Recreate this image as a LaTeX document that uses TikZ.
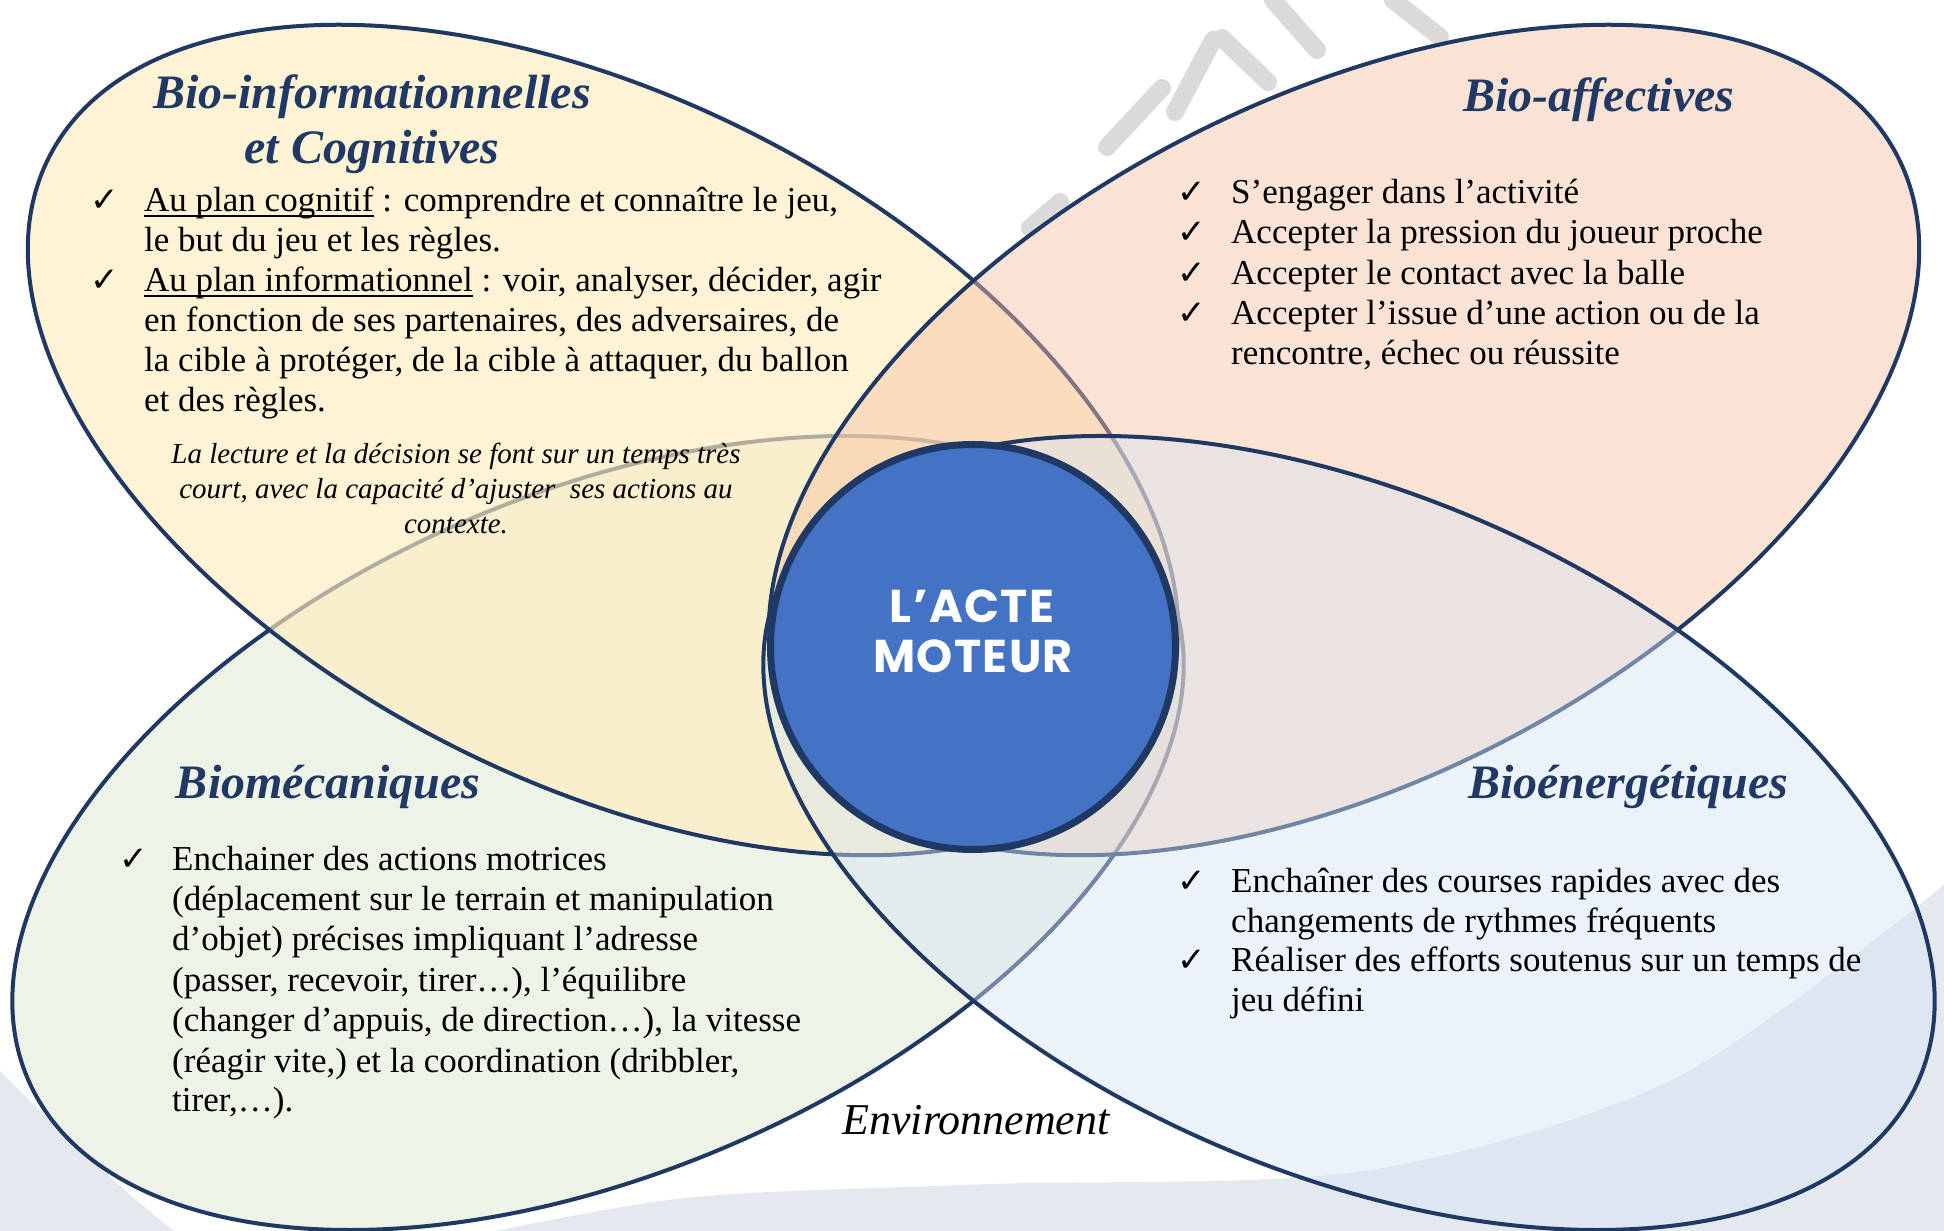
\documentclass[tikz,border=0pt]{standalone}
\usepackage{fontspec}
\setmainfont{Liberation Serif}
\newfontfamily\symfont{DejaVu Sans}
\newfontfamily\circfont{Poppins}[LetterSpace=3]
\newcommand\myul[1]{{\setbox0\hbox{#1}\rlap{\rule[-5pt]{\wd0}{1.6pt}}\box0}}
\definecolor{navy}{HTML}{1F3864}
\definecolor{ylw}{RGB}{255,237,192}
\definecolor{org}{RGB}{246,195,162}
\definecolor{grn}{RGB}{219,230,203}
\definecolor{lbl}{RGB}{215,228,244}
\definecolor{bggrey}{RGB}{228,233,240}
\definecolor{circblue}{HTML}{4472C4}
\definecolor{wm}{RGB}{218,218,218}
\begin{document}
\begin{tikzpicture}[x=1pt,y=1pt,
  petal/.style={draw=navy,line width=4pt,fill opacity=0.45},
  body/.style={font=\fontsize{35}{40}\selectfont,anchor=base west,inner sep=0pt},
  chk/.style={font=\symfont\fontsize{34}{40}\selectfont,anchor=base west,inner sep=0pt},
  note/.style={font=\fontsize{29}{35}\selectfont\itshape,anchor=base,inner sep=0pt},
  ttl/.style={font=\fontsize{48}{52}\selectfont\bfseries\itshape,text=navy,anchor=base,inner sep=0pt},
  acte/.style={font=\circfont\bfseries\fontsize{46}{54}\selectfont,text=white,anchor=base,inner sep=0pt},
  wmark/.style={draw=wm,line width=18pt,line cap=round},
  band/.style={fill=bggrey,draw=none}]
\useasboundingbox (0,0) rectangle (1944,1231);
\fill[white] (0,0) rectangle (1944,1231);
% background bands
\path[band] (0,160) .. controls (50,110) and (110,50) .. (174,0) -- (0,0) -- cycle;
\path[band] plot[smooth] coordinates {(496,0) (694,34) (992,47) (1364,60) (1674,152) (1944,346)} -- (1944,0) -- cycle;
% watermark strokes
\draw[wmark] (1030,1003) -- (1060,1029);
\draw[wmark] (1107,1084) -- (1162,1143);
\draw[wmark] (1175,1119) -- (1213,1191);
\draw[wmark] (1222,1193) -- (1268,1149);
\draw[wmark] (1273,1231) -- (1317,1181);
\draw[wmark] (1393,1231) -- (1440,1194);
% petals
\path[petal,fill=grn,rotate around={23.4:(598,398)}] (598,398) ellipse[x radius=621pt,y radius=339pt];
\path[petal,fill=ylw,fill opacity=0.65,rotate around={-27.1:(603,791)}] (603,791) ellipse[x radius=622pt,y radius=341pt];
\path[petal,fill=org,rotate around={27.1:(1344,791)}] (1344,791) ellipse[x radius=622pt,y radius=341pt];
\path[petal,fill=lbl,rotate around={-23.4:(1349,398)}] (1349,398) ellipse[x radius=621pt,y radius=339pt];
% centre
\node[circle,draw=navy,line width=7pt,fill=circblue,minimum size=405pt,inner sep=0pt] (centre) at (973,584) {};
\node[acte] (acte1) at (972,608) {L’ACTE};
\node[acte] (acte2) at (973,558) {MOTEUR};
% titles
\node[ttl] (t1) at (372,1122) {Bio-informationnelles};
\node[ttl] (t1c) at (372,1067) {et Cognitives};
\node[ttl] (t2) at (1599,1119) {Bio-affectives};
\node[ttl] (t3) at (328,432) {Biomécaniques};
\node[ttl] (t4) at (1628,432) {Bioénergétiques};
% yellow list
\node[chk] (yc1) at (90,1019) {✓};
\node[body] (y1) at (144,1019) {\myul{Au plan cognitif} : comprendre et connaître le jeu,};
\node[body] (y2) at (144,979) {le but du jeu et les règles.};
\node[chk] (yc2) at (90,939) {✓};
\node[body] (y3) at (144,939) {\myul{Au plan informationnel} : voir, analyser, décider, agir};
\node[body] (y4) at (144,899) {en fonction de ses partenaires, des adversaires, de};
\node[body] (y5) at (144,859) {la cible à protéger, de la cible à attaquer, du ballon};
\node[body] (y6) at (144,819) {et des règles.};
\node[note] (n1) at (456,767) {La lecture et la décision se font sur un temps très};
\node[note] (n2) at (456,732) {court, avec la capacité d’ajuster\ \ ses actions au};
\node[note] (n3) at (456,697) {contexte.};
% orange list
\node[chk] (oc1) at (1177,1027) {✓};
\node[body] (o1) at (1231,1027) {S’engager dans l’activité};
\node[chk] (oc2) at (1177,987) {✓};
\node[body] (o2) at (1231,987) {Accepter la pression du joueur proche};
\node[chk] (oc3) at (1177,946) {✓};
\node[body] (o3) at (1231,946) {Accepter le contact avec la balle};
\node[chk] (oc4) at (1177,906) {✓};
\node[body] (o4) at (1231,906) {Accepter l’issue d’une action ou de la};
\node[body] (o5) at (1231,866) {rencontre, échec ou réussite};
% green list
\node[chk] (gc1) at (119,360) {✓};
\node[body] (g1) at (172,360) {Enchainer des actions motrices};
\node[body] (g2) at (172,320) {(déplacement sur le terrain et manipulation};
\node[body] (g3) at (172,280) {d’objet) précises impliquant l’adresse};
\node[body] (g4) at (172,239) {(passer, recevoir, tirer…), l’équilibre};
\node[body] (g5) at (172,199) {(changer d’appuis, de direction…), la vitesse};
\node[body] (g6) at (172,158) {(réagir vite,) et la coordination (dribbler,};
\node[body] (g7) at (172,119) {tirer,…).};
% light blue list
\node[chk] (bc1) at (1177,338) {✓};
\node[body] (b1) at (1231,338) {Enchaîner des courses rapides avec des};
\node[body] (b2) at (1231,298) {changements de rythmes fréquents};
\node[chk] (bc2) at (1177,259) {✓};
\node[body] (b3) at (1231,259) {Réaliser des efforts soutenus sur un temps de};
\node[body] (b4) at (1231,219) {jeu défini};
% environment
\node[font=\fontsize{44}{50}\selectfont\itshape,anchor=base,inner sep=0pt] (env) at (976,96) {Environnement};
\end{tikzpicture}
\end{document}
